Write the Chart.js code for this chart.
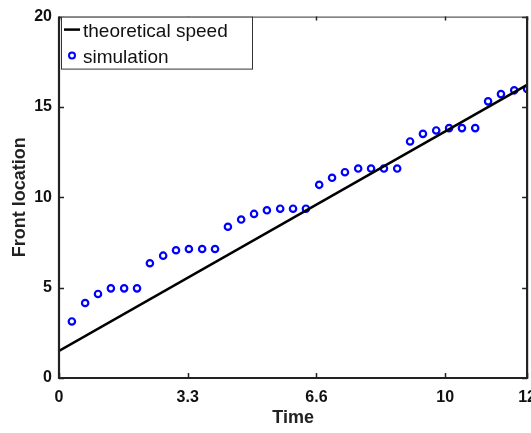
<!DOCTYPE html>
<html>
<head>
<meta charset="utf-8">
<script src="https://cdn.jsdelivr.net/npm/chart.js@4"></script>
<style>
  html, body { margin: 0; padding: 0; background: #fff; overflow: hidden; }
  #wrap { width: 546px; height: 433px; }
</style>
</head>
<body>
<div id="wrap"><canvas id="myChart"></canvas></div>
<script>
// simulation samples (time, front location)
const simTime = [0.33, 0.67, 1, 1.33, 1.67, 2, 2.33, 2.67, 3, 3.33, 3.67, 4,
  4.33, 4.67, 5, 5.33, 5.67, 6, 6.33, 6.67, 7, 7.33, 7.67, 8,
  8.33, 8.67, 9, 9.33, 9.67, 10, 10.33, 10.67, 11, 11.33, 11.67, 12];
const simFront = [3.13, 4.15, 4.65, 4.96, 4.96, 4.96, 6.35, 6.77, 7.07, 7.14, 7.14, 7.14,
  8.37, 8.77, 9.08, 9.28, 9.37, 9.37, 9.37, 10.69, 11.08, 11.39, 11.59, 11.59,
  11.59, 11.59, 13.09, 13.51, 13.7, 13.83, 13.83, 13.83, 15.31, 15.71, 15.92, 16.0];

// theoretical speed line end points
const theoryTime = [0, 12];
const theoryFront = [1.5, 16.22];

const xTicks = [0, 3.3, 6.6, 9.9, 12];
const xTickLabels = ['0', '3.3', '6.6', '10', '12'];
const yTicks = [0, 5, 10, 15, 20];

const labels = ['theoretical speed', 'simulation'];

const frame = {
  id: 'frame',
  afterDatasetsDraw(chart) {
    const { ctx, chartArea: a, scales: { x, y } } = chart;
    ctx.save();
    // inner ticks
    ctx.strokeStyle = '#222';
    ctx.lineWidth = 1.5;
    ctx.beginPath();
    xTicks.forEach(v => {
      const px = Math.round(x.getPixelForValue(v)) + 0.5;
      ctx.moveTo(px, a.bottom); ctx.lineTo(px, a.bottom - 5);
      ctx.moveTo(px, a.top); ctx.lineTo(px, a.top + 4);
    });
    yTicks.forEach(v => {
      const py = Math.round(y.getPixelForValue(v)) + 0.5;
      ctx.moveTo(a.left, py); ctx.lineTo(a.left + 5, py);
      ctx.moveTo(a.right, py); ctx.lineTo(a.right - 5, py);
    });
    ctx.stroke();
    // box
    ctx.strokeStyle = '#333';
    ctx.lineWidth = 1;
    ctx.beginPath();
    ctx.moveTo(a.left, a.top + 0.5); ctx.lineTo(a.right, a.top + 0.5);
    ctx.stroke();
    ctx.strokeStyle = '#222';
    ctx.lineWidth = 2.2;
    ctx.beginPath();
    ctx.moveTo(a.left, a.top); ctx.lineTo(a.left, a.bottom);
    ctx.lineTo(a.right, a.bottom); ctx.lineTo(a.right, a.top);
    ctx.stroke();

    // legend
    const lx = a.left + 2, ly = a.top, lw = 191, lh = 52;
    ctx.fillStyle = '#fff';
    ctx.fillRect(lx, ly, lw, lh);
    ctx.strokeStyle = '#333';
    ctx.lineWidth = 1;
    ctx.strokeRect(lx + 0.5, ly + 0.5, lw, lh);
    ctx.strokeStyle = '#000';
    ctx.lineWidth = 2.5;
    ctx.beginPath();
    ctx.moveTo(lx + 3, ly + 13); ctx.lineTo(lx + 19, ly + 13);
    ctx.stroke();
    ctx.strokeStyle = '#0000ff';
    ctx.lineWidth = 2;
    ctx.beginPath();
    ctx.arc(lx + 11, ly + 39, 3, 0, Math.PI * 2);
    ctx.stroke();
    ctx.fillStyle = '#111';
    ctx.font = '19px "Liberation Sans", Arial, sans-serif';
    ctx.textBaseline = 'middle';
    ctx.fillText(labels[0], lx + 22, ly + 15);
    ctx.fillText(labels[1], lx + 22, ly + 41);
    ctx.restore();
  }
};

new Chart('myChart', {
  type: 'scatter',
  data: {
    datasets: [
      {
        type: 'line',
        label: labels[0],
        data: theoryTime.map((t, i) => ({ x: t, y: theoryFront[i] })),
        borderColor: '#000',
        borderWidth: 2.6,
        pointRadius: 0,
        fill: false
      },
      {
        label: labels[1],
        data: simTime.map((t, i) => ({ x: t, y: simFront[i] })),
        borderColor: '#0000ff',
        backgroundColor: 'rgba(0,0,0,0)',
        borderWidth: 2.2,
        pointRadius: 3.2,
        clip: 0
      }
    ]
  },
  options: {
    responsive: true,
    maintainAspectRatio: false,
    animation: false,
    layout: { padding: { top: 9, right: 0, left: 0, bottom: 0 } },
    plugins: { legend: false, tooltip: false },
    scales: {
      x: {
        type: 'linear',
        min: 0,
        max: 12,
        afterBuildTicks: s => { s.ticks = xTicks.map(v => ({ value: v })); },
        afterFit: s => { s.height = 55; },
        grid: { display: false, drawTicks: false },
        border: { display: false },
        ticks: {
          padding: 10,
          color: '#111',
          font: { family: '"Liberation Sans", Arial, sans-serif', size: 16, weight: 'bold' },
          callback: (v, i) => xTickLabels[i]
        },
        title: {
          display: true,
          text: 'Time',
          color: '#222',
          font: { family: '"Liberation Sans", Arial, sans-serif', size: 18, weight: 'bold' },
          padding: { top: 0, bottom: 4 }
        }
      },
      y: {
        min: 0,
        max: 20,
        afterBuildTicks: s => { s.ticks = yTicks.map(v => ({ value: v })); },
        afterFit: s => { s.width = 59; },
        grid: { display: false, drawTicks: false },
        border: { display: false },
        ticks: {
          padding: 7,
          color: '#111',
          font: { family: '"Liberation Sans", Arial, sans-serif', size: 16, weight: 'bold' }
        },
        title: {
          display: true,
          text: 'Front location',
          color: '#222',
          font: { family: '"Liberation Sans", Arial, sans-serif', size: 18, weight: 'bold' },
          padding: { top: 9, bottom: 0 }
        }
      }
    }
  },
  plugins: [frame]
});
</script>
</body>
</html>
